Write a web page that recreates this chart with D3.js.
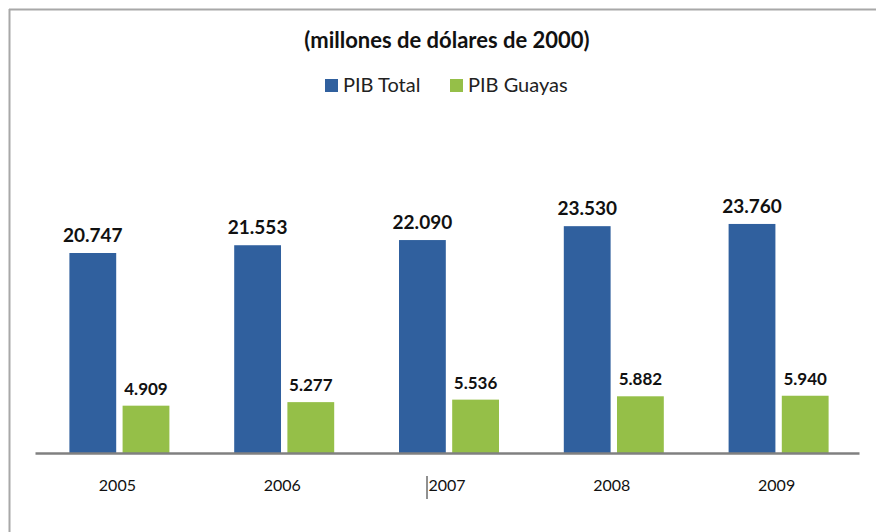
<!DOCTYPE html>
<html>
<head>
<meta charset="utf-8">
<script src="https://cdn.jsdelivr.net/npm/d3@7"></script>
<style>
  body { margin: 0; background: #fff; }
  svg { display: block; font-family: Lato, "Open Sans", sans-serif; }
</style>
</head>
<body>
<div id="chart"></div>
<script>
// data
const years = ["2005", "2006", "2007", "2008", "2009"]
const pibTotal = [20747, 21553, 22090, 23530, 23760]
const pibGuayas = [4909, 5277, 5536, 5882, 5940]
const seriesNames = ["PIB Total", "PIB Guayas"]
const colors = ["#30609e", "#95bf48"]

const w = 876
const h = 532
const left = 35, right = 859, base = 453

const svg = d3.select("#chart").append("svg")
  .attr("width", w)
  .attr("height", h)

// frame lines (top + left only)
svg.append("line").attr("x1", 9).attr("x2", w).attr("y1", 9.5).attr("y2", 9.5)
  .attr("stroke", "#a8a8a8").attr("stroke-width", 2)
svg.append("line").attr("x1", 9.5).attr("x2", 9.5).attr("y1", 9).attr("y2", h)
  .attr("stroke", "#a8a8a8").attr("stroke-width", 2)

// title
svg.append("text")
  .attr("x", 447).attr("y", 48)
  .attr("text-anchor", "middle")
  .attr("font-size", 22).attr("font-weight", "bold")
  .attr("fill", "#111")
  .text("(millones de dólares de 2000)")

// legend
const legend = svg.append("g").attr("transform", "translate(325,85)")
const legX = [0, 125]
seriesNames.forEach((name, i) => {
  legend.append("rect").attr("x", legX[i]).attr("y", -6).attr("width", 13).attr("height", 13)
    .attr("fill", colors[i])
  legend.append("text").attr("x", legX[i] + 18).attr("y", 7)
    .attr("font-size", 20).attr("fill", "#222")
    .text(name)
})

const x0 = d3.scaleBand().domain(years).range([left, right])
const x1 = d3.scaleBand().domain([0, 1]).range([x0.bandwidth() / 2 - 48, x0.bandwidth() / 2 + 52]).paddingInner(0.12)
const y = d3.scaleLinear().domain([0, 20747]).range([base, 253])

const rows = years.map((yr, i) => ({ year: yr, vals: [pibTotal[i], pibGuayas[i]] }))

const groups = svg.selectAll("g.year")
  .data(rows)
  .enter().append("g")
  .attr("class", "year")
  .attr("transform", d => "translate(" + x0(d.year) + ",0)")

groups.selectAll("rect")
  .data(d => d.vals)
  .enter().append("rect")
  .attr("x", (d, i) => x1(i))
  .attr("width", x1.bandwidth())
  .attr("y", d => y(d))
  .attr("height", d => base - y(d))
  .attr("fill", (d, i) => colors[i])

const fmt = d3.formatLocale({ decimal: ",", thousands: ".", grouping: [3], currency: ["", ""] }).format(",")

groups.selectAll("text")
  .data(d => d.vals)
  .enter().append("text")
  .attr("x", (d, i) => x1(i) + x1.bandwidth() / 2)
  .attr("y", d => y(d) - 11)
  .attr("text-anchor", "middle")
  .attr("font-size", (d, i) => i == 0 ? 19 : 17)
  .attr("font-weight", "bold")
  .attr("fill", "#111")
  .text(d => fmt(d))

// x axis
const xAxis = d3.axisBottom(x0).tickSize(0).tickPadding(27)
const ax = svg.append("g")
  .attr("transform", "translate(0," + base + ")")
  .call(xAxis)
ax.select(".domain").attr("stroke", "#808080").attr("stroke-width", 2.5)
ax.selectAll("text").attr("font-size", 16).attr("fill", "#111")
  .attr("font-family", "Lato, 'Open Sans', sans-serif")

// text cursor artefact next to 2007
const cx = x0("2007") + x0.bandwidth() / 2 - 20
svg.append("line").attr("x1", cx).attr("x2", cx).attr("y1", base + 23).attr("y2", base + 46)
  .attr("stroke", "#222").attr("stroke-width", 1)
</script>
</body>
</html>
